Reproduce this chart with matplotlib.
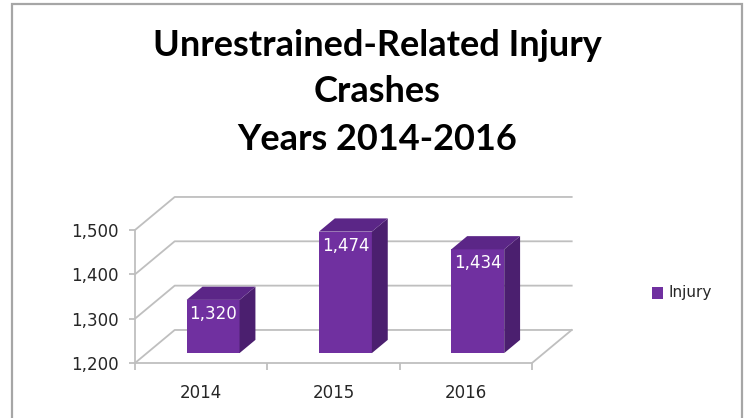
import matplotlib.pyplot as plt
from matplotlib.patches import Polygon, Rectangle
import numpy as np

plt.rcParams['font.family'] = ['DejaVu Sans']

# data
years = ['2014', '2015', '2016']
injury = [1320, 1474, 1434]
yticks = [1200, 1300, 1400, 1500]
title_lines = ['Unrestrained-Related Injury', 'Crashes', 'Years 2014-2016']

front_c = '#7030A0'
side_c = '#4B1F6F'
top_c = '#5B2687'
grid_c = '#BFBFBF'
text_c = '#262626'

fig = plt.figure(figsize=(7.45, 4.18), dpi=100)

# chart frame
fig.patches.append(Rectangle((12 / 745, -0.05), 730 / 745, 1.05 - 4 / 418,
                             transform=fig.transFigure, fill=False,
                             edgecolor='#A6A6A6', linewidth=1.6))

# title, one text per line
for line, ypx in zip(title_lines, [45, 91, 140]):
    fig.text(377 / 745, 1 - ypx / 418, line, ha='center', va='center',
             fontsize=26, fontweight='bold', family=['Lato', 'DejaVu Sans'],
             color='#000000')

ax = fig.add_axes([135 / 745, (418 - 363) / 418, 397 / 745, 133 / 418])
ax.set_xlim(-0.5, 2.5)
ax.set_ylim(1200, 1500)
ax.patch.set_visible(False)

# depth of the 3D box in data units
ddx = 0.30
ddy = 74.5

# walls and gridlines
for v in yticks:
    ax.plot([-0.5, -0.5 + ddx, 2.5 + ddx], [v, v + ddy, v + ddy],
            color=grid_c, lw=1.3, clip_on=False, zorder=1)
ax.plot([2.5, 2.5 + ddx], [1200, 1200 + ddy], color=grid_c, lw=1.3,
        clip_on=False, zorder=1)

# 3D bars
w = 0.40
f0, f1 = 0.30, 0.70
for i, v in enumerate(injury):
    x0 = i - w / 2 + f0 * ddx
    x1 = x0 + w
    yb = 1200 + f0 * ddy
    yt = v + f0 * ddy
    sx = (f1 - f0) * ddx
    sy = (f1 - f0) * ddy
    ax.add_patch(Polygon([(x0, yb), (x1, yb), (x1, yt), (x0, yt)],
                         closed=True, facecolor=front_c, edgecolor='none',
                         clip_on=False, zorder=3))
    ax.add_patch(Polygon([(x1, yb), (x1 + sx, yb + sy), (x1 + sx, yt + sy), (x1, yt)],
                         closed=True, facecolor=side_c, edgecolor='none',
                         clip_on=False, zorder=3))
    ax.add_patch(Polygon([(x0, yt), (x1, yt), (x1 + sx, yt + sy), (x0 + sx, yt + sy)],
                         closed=True, facecolor=top_c, edgecolor='none',
                         clip_on=False, zorder=3))
    ax.annotate(f'{v:,}', xy=((x0 + x1) / 2, yt), xytext=(0, -5),
                textcoords='offset pixels', ha='center', va='top',
                color='white', fontsize=12, zorder=4)

# axes
for s in ['top', 'right']:
    ax.spines[s].set_visible(False)
for s in ['left', 'bottom']:
    ax.spines[s].set_color(grid_c)
    ax.spines[s].set_linewidth(1.3)
    ax.spines[s].set_zorder(2)

ax.set_yticks(yticks)
ax.set_yticklabels([f'{t:,}' for t in yticks])
ax.tick_params(axis='y', length=4, width=1.3, color=grid_c, pad=8,
               labelsize=12, labelcolor=text_c)

ax.set_xticks(range(len(years)))
ax.set_xticklabels(years)
ax.set_xticks(np.arange(-0.5, 3, 1), minor=True)
ax.tick_params(axis='x', which='major', length=0, pad=15, labelsize=12,
               labelcolor=text_c)
ax.tick_params(axis='x', which='minor', length=5, width=1.3, color=grid_c)

# legend
fig.patches.append(Rectangle((652 / 745, 1 - 299 / 418), 11 / 745, 12 / 418,
                             transform=fig.transFigure, facecolor=front_c,
                             edgecolor='none'))
fig.text(669 / 745, 1 - 293 / 418, 'Injury', ha='left', va='center',
         fontsize=11, color=text_c)

fig.savefig('out.png', dpi=100)
